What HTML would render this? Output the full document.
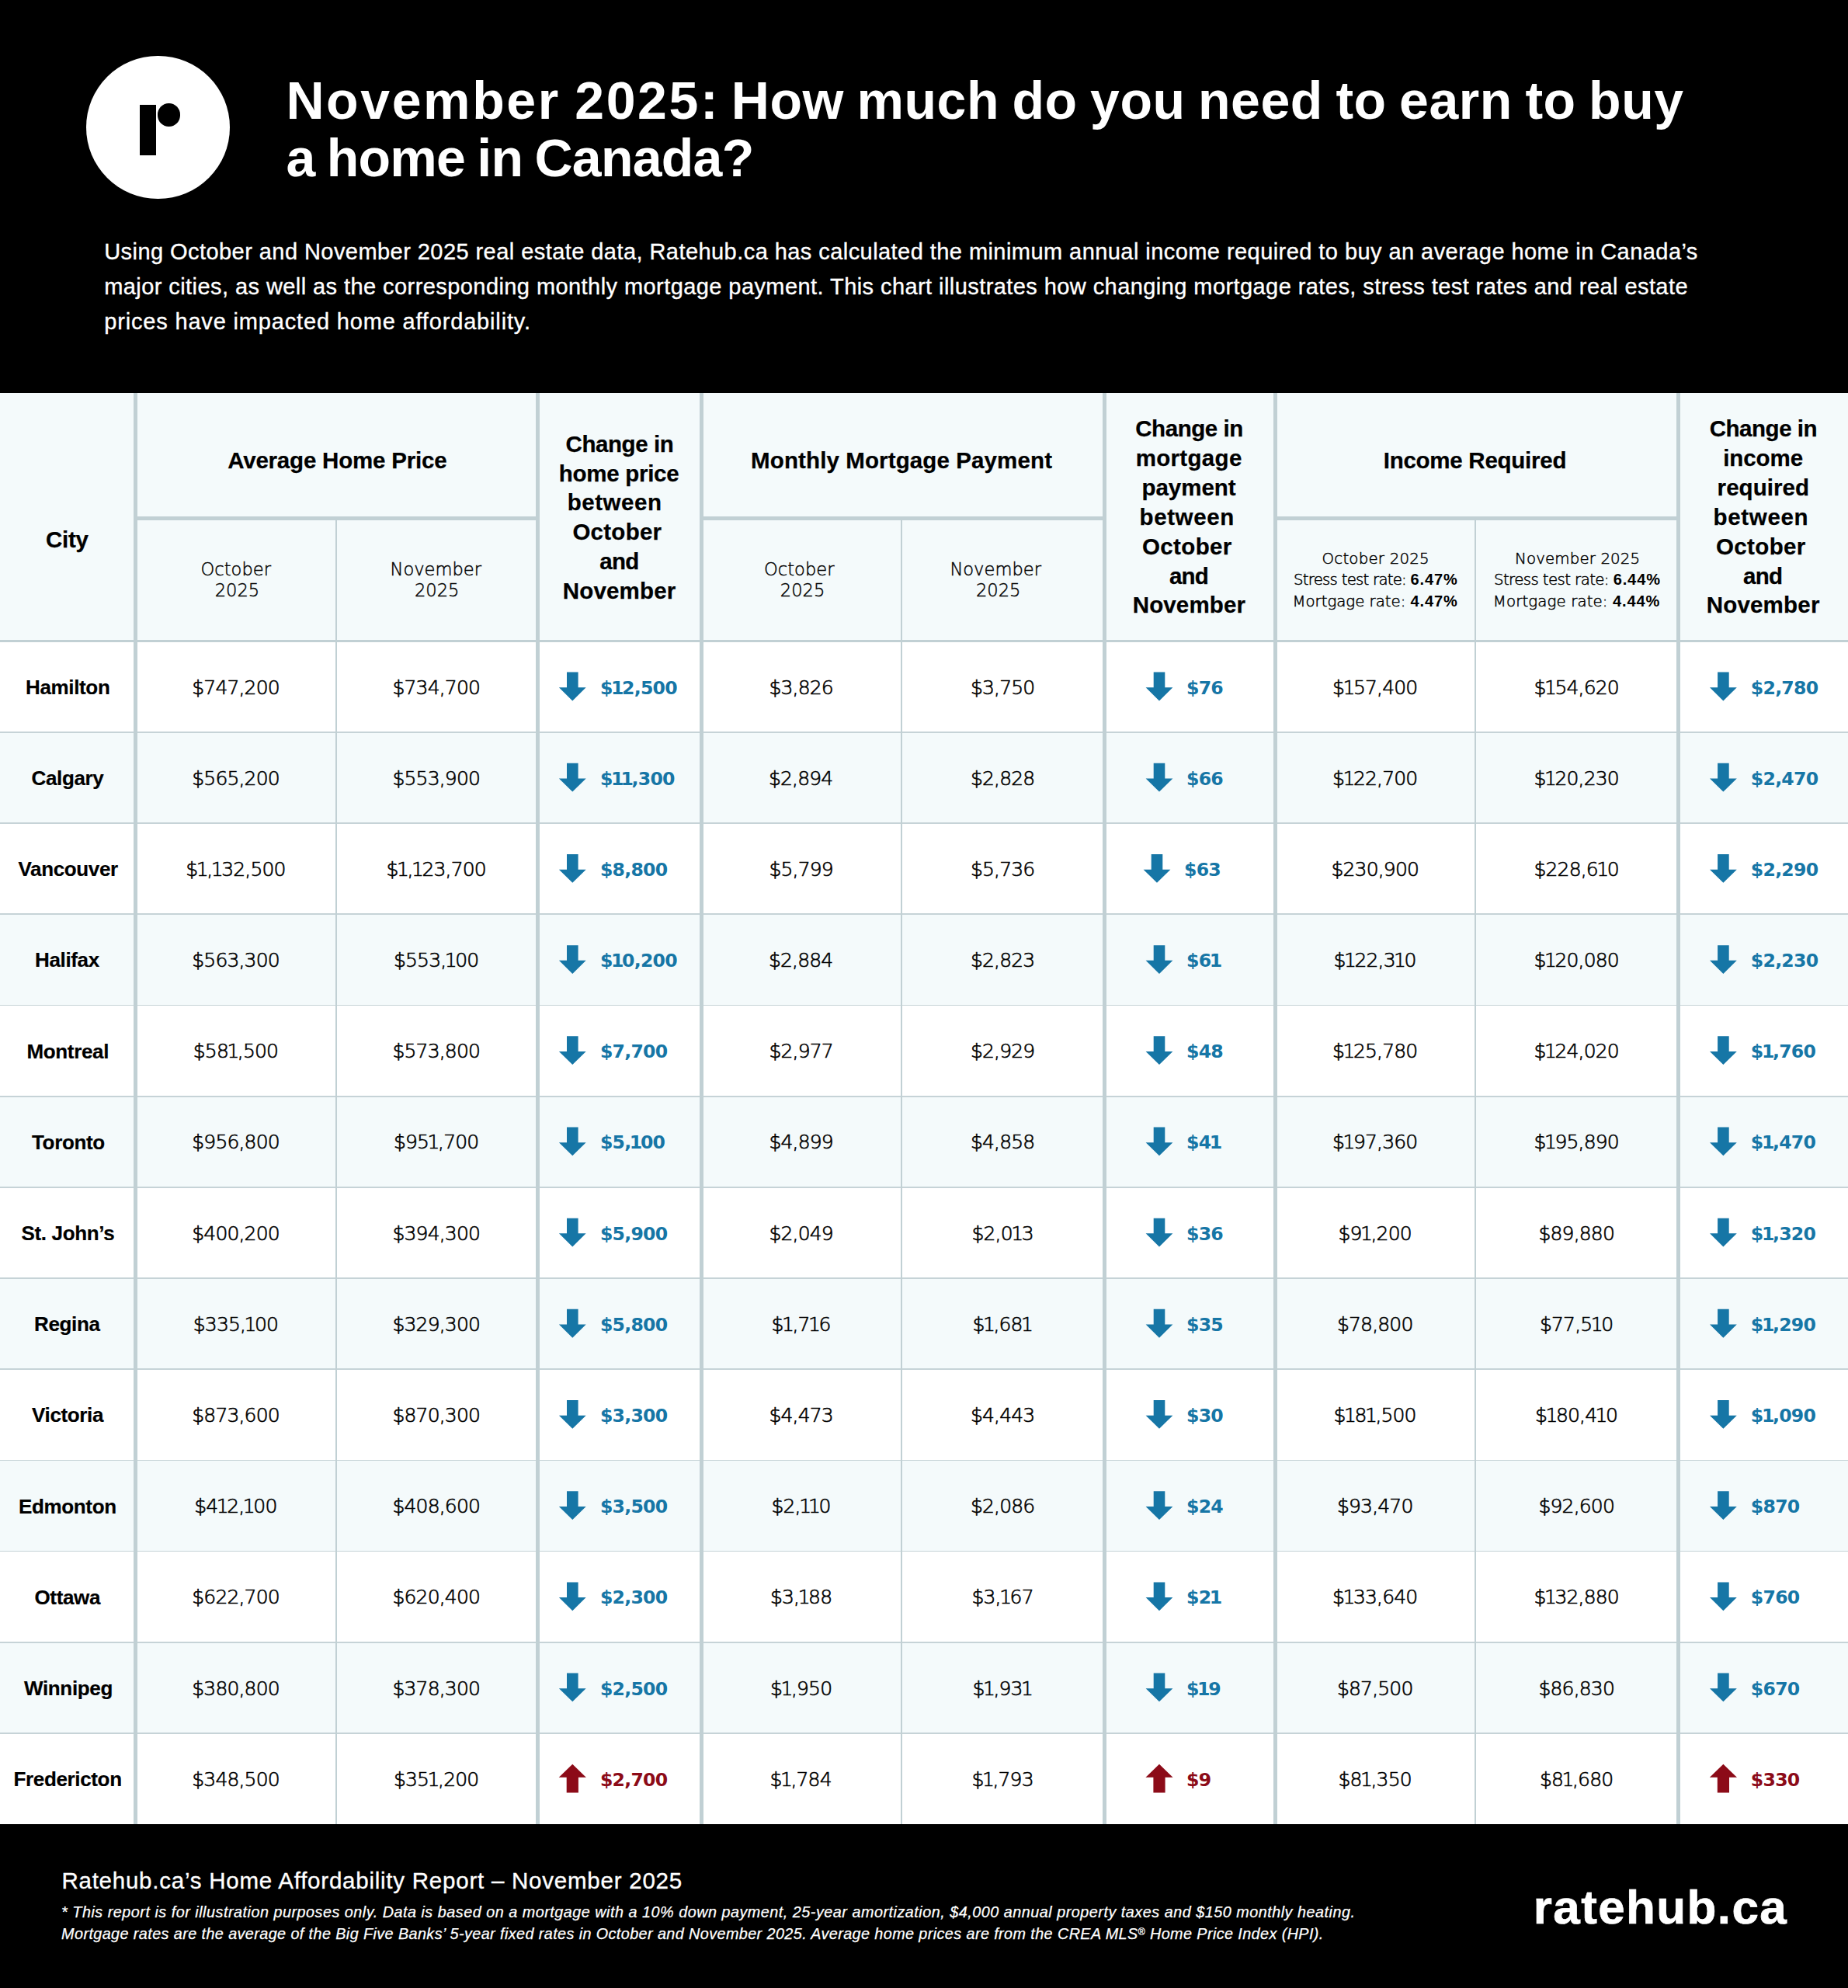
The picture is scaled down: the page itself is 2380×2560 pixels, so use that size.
<!DOCTYPE html>
<html lang="en"><head><meta charset="utf-8"><title>November 2025: How much do you need to earn to buy a home in Canada?</title>
<style>
html,body{margin:0;padding:0;background:#000}
#page{position:relative;width:2380px;height:2560px;overflow:hidden;background:#000}
.b{position:absolute}
#tbl{position:absolute;left:0;top:506px;width:2380px;height:1843px;background:#fff}
.t{position:absolute;white-space:pre;line-height:1.2;margin:0;padding:0}
.h1{font-family:"Liberation Sans",sans-serif;font-size:68px;font-weight:700;color:#fff;word-spacing:-3px;}
.p{font-family:"Liberation Sans",sans-serif;font-size:29px;color:#fff;-webkit-text-stroke:0.35px currentColor;}
.th{font-family:"Liberation Sans",sans-serif;font-size:29.5px;font-weight:700;-webkit-text-stroke:0.25px currentColor;}
.sub{font-family:"DejaVu Sans","Liberation Sans",sans-serif;font-size:22.6px;font-weight:200;-webkit-text-stroke:0.45px currentColor;}
.inc{font-family:"DejaVu Sans","Liberation Sans",sans-serif;font-size:19.75px;font-weight:200;-webkit-text-stroke:0.5px currentColor;}
.city{font-family:"Liberation Sans",sans-serif;font-size:26px;font-weight:700;-webkit-text-stroke:0.2px currentColor;letter-spacing:-0.35px;}
.n{font-family:"DejaVu Sans","Liberation Sans",sans-serif;font-size:25px;font-weight:200;-webkit-text-stroke:0.65px currentColor;letter-spacing:-0.85px;}
.bl{font-family:"DejaVu Sans","Liberation Sans",sans-serif;font-size:23.6px;font-weight:700;color:#1676a6;letter-spacing:-0.75px;}
.rd{font-family:"DejaVu Sans","Liberation Sans",sans-serif;font-size:23.6px;font-weight:700;color:#8c0b18;letter-spacing:-0.75px;}
.ft{font-family:"Liberation Sans",sans-serif;font-size:29.5px;color:#fff;-webkit-text-stroke:0.35px currentColor;}
.fi{font-family:"Liberation Sans",sans-serif;font-size:19.8px;font-style:italic;color:#fff;-webkit-text-stroke:0.25px currentColor;}
.logo{font-family:"Liberation Sans",sans-serif;font-size:62px;font-weight:700;color:#fff;-webkit-text-stroke:0.7px currentColor;}
.fi sup{font-size:62%;vertical-align:baseline;position:relative;top:-0.42em;line-height:0} .n i,.bl i,.rd i{font-style:normal;margin:0 -1.6px} .inc b{font-family:"Liberation Sans",sans-serif;font-weight:700;font-size:20px;letter-spacing:0.9px;-webkit-text-stroke:0}
svg{position:absolute;left:0;top:0}
</style></head><body><div id="page">
<div id="tbl"></div>
<div class="b" style="left:0px;top:506px;width:2380px;height:320px;background:#f4fafb"></div>
<div class="b" style="left:0px;top:942.98px;width:2380px;height:117.18px;background:#f4fafb"></div>
<div class="b" style="left:0px;top:1177.34px;width:2380px;height:117.18px;background:#f4fafb"></div>
<div class="b" style="left:0px;top:1411.7px;width:2380px;height:117.18px;background:#f4fafb"></div>
<div class="b" style="left:0px;top:1646.06px;width:2380px;height:117.18px;background:#f4fafb"></div>
<div class="b" style="left:0px;top:1880.42px;width:2380px;height:117.18px;background:#f4fafb"></div>
<div class="b" style="left:0px;top:2114.78px;width:2380px;height:117.18px;background:#f4fafb"></div>
<div class="b" style="left:0px;top:942.08px;width:2380px;height:1.8px;background:#c6d3d7"></div>
<div class="b" style="left:0px;top:1059.26px;width:2380px;height:1.8px;background:#c6d3d7"></div>
<div class="b" style="left:0px;top:1176.44px;width:2380px;height:1.8px;background:#c6d3d7"></div>
<div class="b" style="left:0px;top:1293.62px;width:2380px;height:1.8px;background:#c6d3d7"></div>
<div class="b" style="left:0px;top:1410.8px;width:2380px;height:1.8px;background:#c6d3d7"></div>
<div class="b" style="left:0px;top:1527.98px;width:2380px;height:1.8px;background:#c6d3d7"></div>
<div class="b" style="left:0px;top:1645.16px;width:2380px;height:1.8px;background:#c6d3d7"></div>
<div class="b" style="left:0px;top:1762.34px;width:2380px;height:1.8px;background:#c6d3d7"></div>
<div class="b" style="left:0px;top:1879.52px;width:2380px;height:1.8px;background:#c6d3d7"></div>
<div class="b" style="left:0px;top:1996.7px;width:2380px;height:1.8px;background:#c6d3d7"></div>
<div class="b" style="left:0px;top:2113.88px;width:2380px;height:1.8px;background:#c6d3d7"></div>
<div class="b" style="left:0px;top:2231.06px;width:2380px;height:1.8px;background:#c6d3d7"></div>
<div class="b" style="left:0px;top:823.5px;width:2380px;height:3.5px;background:#c1d0d4"></div>
<div class="b" style="left:177px;top:664.5px;width:513px;height:5px;background:#c1d0d4"></div>
<div class="b" style="left:905.5px;top:664.5px;width:514.5px;height:5px;background:#c1d0d4"></div>
<div class="b" style="left:1645px;top:664.5px;width:514px;height:5px;background:#c1d0d4"></div>
<div class="b" style="left:172px;top:506px;width:5.4px;height:1843px;background:#c1d0d4"></div>
<div class="b" style="left:690px;top:506px;width:5.4px;height:1843px;background:#c1d0d4"></div>
<div class="b" style="left:900.5px;top:506px;width:5.4px;height:1843px;background:#c1d0d4"></div>
<div class="b" style="left:1420px;top:506px;width:5.4px;height:1843px;background:#c1d0d4"></div>
<div class="b" style="left:1640px;top:506px;width:5.4px;height:1843px;background:#c1d0d4"></div>
<div class="b" style="left:2159px;top:506px;width:5.4px;height:1843px;background:#c1d0d4"></div>
<div class="b" style="left:431.8px;top:669.5px;width:1.8px;height:1679.5px;background:#c1d0d4"></div>
<div class="b" style="left:1160.3px;top:669.5px;width:1.8px;height:1679.5px;background:#c1d0d4"></div>
<div class="b" style="left:1899.3px;top:669.5px;width:1.8px;height:1679.5px;background:#c1d0d4"></div>
<div class="b" style="left:111px;top:71.5px;width:184.5px;height:184.5px;border-radius:50%;background:#fff"></div>
<div class="b" style="left:180.2px;top:135px;width:20.8px;height:65.3px;background:#000"></div>
<div class="b" style="left:202.8px;top:133.4px;width:29.6px;height:29.6px;border-radius:50%;background:#000"></div>
<svg width="2380" height="2560" viewBox="0 0 2380 2560"><polygon points="730,865.59 744.6,865.59 744.6,885.29 754.7,885.29 737.3,902.39 719.9,885.29 730,885.29" fill="#1676a6"/><polygon points="1485.7,865.59 1500.3,865.59 1500.3,885.29 1510.4,885.29 1493,902.39 1475.6,885.29 1485.7,885.29" fill="#1676a6"/><polygon points="2212.1,865.59 2226.7,865.59 2226.7,885.29 2236.8,885.29 2219.4,902.39 2202,885.29 2212.1,885.29" fill="#1676a6"/><polygon points="730,982.77 744.6,982.77 744.6,1002.47 754.7,1002.47 737.3,1019.57 719.9,1002.47 730,1002.47" fill="#1676a6"/><polygon points="1485.7,982.77 1500.3,982.77 1500.3,1002.47 1510.4,1002.47 1493,1019.57 1475.6,1002.47 1485.7,1002.47" fill="#1676a6"/><polygon points="2212.1,982.77 2226.7,982.77 2226.7,1002.47 2236.8,1002.47 2219.4,1019.57 2202,1002.47 2212.1,1002.47" fill="#1676a6"/><polygon points="730,1099.95 744.6,1099.95 744.6,1119.65 754.7,1119.65 737.3,1136.75 719.9,1119.65 730,1119.65" fill="#1676a6"/><polygon points="1482.7,1099.95 1497.3,1099.95 1497.3,1119.65 1507.4,1119.65 1490,1136.75 1472.6,1119.65 1482.7,1119.65" fill="#1676a6"/><polygon points="2212.1,1099.95 2226.7,1099.95 2226.7,1119.65 2236.8,1119.65 2219.4,1136.75 2202,1119.65 2212.1,1119.65" fill="#1676a6"/><polygon points="730,1217.13 744.6,1217.13 744.6,1236.83 754.7,1236.83 737.3,1253.93 719.9,1236.83 730,1236.83" fill="#1676a6"/><polygon points="1485.7,1217.13 1500.3,1217.13 1500.3,1236.83 1510.4,1236.83 1493,1253.93 1475.6,1236.83 1485.7,1236.83" fill="#1676a6"/><polygon points="2212.1,1217.13 2226.7,1217.13 2226.7,1236.83 2236.8,1236.83 2219.4,1253.93 2202,1236.83 2212.1,1236.83" fill="#1676a6"/><polygon points="730,1334.31 744.6,1334.31 744.6,1354.01 754.7,1354.01 737.3,1371.11 719.9,1354.01 730,1354.01" fill="#1676a6"/><polygon points="1485.7,1334.31 1500.3,1334.31 1500.3,1354.01 1510.4,1354.01 1493,1371.11 1475.6,1354.01 1485.7,1354.01" fill="#1676a6"/><polygon points="2212.1,1334.31 2226.7,1334.31 2226.7,1354.01 2236.8,1354.01 2219.4,1371.11 2202,1354.01 2212.1,1354.01" fill="#1676a6"/><polygon points="730,1451.49 744.6,1451.49 744.6,1471.19 754.7,1471.19 737.3,1488.29 719.9,1471.19 730,1471.19" fill="#1676a6"/><polygon points="1485.7,1451.49 1500.3,1451.49 1500.3,1471.19 1510.4,1471.19 1493,1488.29 1475.6,1471.19 1485.7,1471.19" fill="#1676a6"/><polygon points="2212.1,1451.49 2226.7,1451.49 2226.7,1471.19 2236.8,1471.19 2219.4,1488.29 2202,1471.19 2212.1,1471.19" fill="#1676a6"/><polygon points="730,1568.67 744.6,1568.67 744.6,1588.37 754.7,1588.37 737.3,1605.47 719.9,1588.37 730,1588.37" fill="#1676a6"/><polygon points="1485.7,1568.67 1500.3,1568.67 1500.3,1588.37 1510.4,1588.37 1493,1605.47 1475.6,1588.37 1485.7,1588.37" fill="#1676a6"/><polygon points="2212.1,1568.67 2226.7,1568.67 2226.7,1588.37 2236.8,1588.37 2219.4,1605.47 2202,1588.37 2212.1,1588.37" fill="#1676a6"/><polygon points="730,1685.85 744.6,1685.85 744.6,1705.55 754.7,1705.55 737.3,1722.65 719.9,1705.55 730,1705.55" fill="#1676a6"/><polygon points="1485.7,1685.85 1500.3,1685.85 1500.3,1705.55 1510.4,1705.55 1493,1722.65 1475.6,1705.55 1485.7,1705.55" fill="#1676a6"/><polygon points="2212.1,1685.85 2226.7,1685.85 2226.7,1705.55 2236.8,1705.55 2219.4,1722.65 2202,1705.55 2212.1,1705.55" fill="#1676a6"/><polygon points="730,1803.03 744.6,1803.03 744.6,1822.73 754.7,1822.73 737.3,1839.83 719.9,1822.73 730,1822.73" fill="#1676a6"/><polygon points="1485.7,1803.03 1500.3,1803.03 1500.3,1822.73 1510.4,1822.73 1493,1839.83 1475.6,1822.73 1485.7,1822.73" fill="#1676a6"/><polygon points="2212.1,1803.03 2226.7,1803.03 2226.7,1822.73 2236.8,1822.73 2219.4,1839.83 2202,1822.73 2212.1,1822.73" fill="#1676a6"/><polygon points="730,1920.21 744.6,1920.21 744.6,1939.91 754.7,1939.91 737.3,1957.01 719.9,1939.91 730,1939.91" fill="#1676a6"/><polygon points="1485.7,1920.21 1500.3,1920.21 1500.3,1939.91 1510.4,1939.91 1493,1957.01 1475.6,1939.91 1485.7,1939.91" fill="#1676a6"/><polygon points="2212.1,1920.21 2226.7,1920.21 2226.7,1939.91 2236.8,1939.91 2219.4,1957.01 2202,1939.91 2212.1,1939.91" fill="#1676a6"/><polygon points="730,2037.39 744.6,2037.39 744.6,2057.09 754.7,2057.09 737.3,2074.19 719.9,2057.09 730,2057.09" fill="#1676a6"/><polygon points="1485.7,2037.39 1500.3,2037.39 1500.3,2057.09 1510.4,2057.09 1493,2074.19 1475.6,2057.09 1485.7,2057.09" fill="#1676a6"/><polygon points="2212.1,2037.39 2226.7,2037.39 2226.7,2057.09 2236.8,2057.09 2219.4,2074.19 2202,2057.09 2212.1,2057.09" fill="#1676a6"/><polygon points="730,2154.57 744.6,2154.57 744.6,2174.27 754.7,2174.27 737.3,2191.37 719.9,2174.27 730,2174.27" fill="#1676a6"/><polygon points="1485.7,2154.57 1500.3,2154.57 1500.3,2174.27 1510.4,2174.27 1493,2191.37 1475.6,2174.27 1485.7,2174.27" fill="#1676a6"/><polygon points="2212.1,2154.57 2226.7,2154.57 2226.7,2174.27 2236.8,2174.27 2219.4,2191.37 2202,2174.27 2212.1,2174.27" fill="#1676a6"/><polygon points="729.7,2308.55 744.9,2308.55 744.9,2288.85 754.9,2288.85 737.3,2271.75 719.7,2288.85 729.7,2288.85" fill="#8c0b18"/><polygon points="1485.4,2308.55 1500.6,2308.55 1500.6,2288.85 1510.6,2288.85 1493,2271.75 1475.4,2288.85 1485.4,2288.85" fill="#8c0b18"/><polygon points="2211.8,2308.55 2227,2308.55 2227,2288.85 2237,2288.85 2219.4,2271.75 2201.8,2288.85 2211.8,2288.85" fill="#8c0b18"/></svg>
<div class="t h1" style="left:368.4px;top:88.8px;letter-spacing:2.600px">November 2025:</div>
<div class="t h1" style="left:941.8px;top:88.8px;letter-spacing:0.550px">How much do you need to earn to buy</div>
<div class="t h1" style="left:368.4px;top:162.8px;letter-spacing:-0.725px">a home in Canada?</div>
<div class="t p" style="left:134.2px;top:306.8px;letter-spacing:0.440px">Using October and November 2025 real estate data, Ratehub.ca has calculated the minimum annual income required to buy an average home in Canada’s</div>
<div class="t p" style="left:134.2px;top:352px;letter-spacing:0.427px">major cities, as well as the corresponding monthly mortgage payment. This chart illustrates how changing mortgage rates, stress test rates and real estate</div>
<div class="t p" style="left:134.2px;top:397.1px;letter-spacing:0.833px">prices have impacted home affordability.</div>
<div class="t th" style="left:59px;top:676.7px;letter-spacing:-0.233px">City</div>
<div class="t th" style="left:293.2px;top:574.7px;letter-spacing:-0.206px">Average Home Price</div>
<div class="t th" style="left:967.1px;top:574.7px;letter-spacing:0.117px">Monthly Mortgage Payment</div>
<div class="t th" style="left:1781.7px;top:574.7px;letter-spacing:-0.257px">Income Required</div>
<div class="t th" style="left:728.5px;top:553.7px;letter-spacing:-0.425px">Change in</div>
<div class="t th" style="left:719.8px;top:591.55px;letter-spacing:-0.289px">home price</div>
<div class="t th" style="left:730.7px;top:629.4px;letter-spacing:0.550px">between</div>
<div class="t th" style="left:737.4px;top:667.25px;letter-spacing:0.267px">October</div>
<div class="t th" style="left:772.2px;top:705.1px;letter-spacing:-0.700px">and</div>
<div class="t th" style="left:724.7px;top:742.95px;letter-spacing:0.186px">November</div>
<div class="t th" style="left:1462.2px;top:534.3px;letter-spacing:-0.425px">Change in</div>
<div class="t th" style="left:1462.7px;top:572.15px;letter-spacing:0.314px">mortgage</div>
<div class="t th" style="left:1470.4px;top:610px;letter-spacing:-0.017px">payment</div>
<div class="t th" style="left:1467.5px;top:647.85px;letter-spacing:0.617px">between</div>
<div class="t th" style="left:1471px;top:685.7px;letter-spacing:0.367px">October</div>
<div class="t th" style="left:1506px;top:723.55px;letter-spacing:-0.850px">and</div>
<div class="t th" style="left:1458.7px;top:761.4px;letter-spacing:0.143px">November</div>
<div class="t th" style="left:2201.7px;top:534.3px;letter-spacing:-0.462px">Change in</div>
<div class="t th" style="left:2219.2px;top:572.15px;letter-spacing:-0.080px">income</div>
<div class="t th" style="left:2211.6px;top:610px;letter-spacing:0.071px">required</div>
<div class="t th" style="left:2206.5px;top:647.85px;letter-spacing:0.683px">between</div>
<div class="t th" style="left:2210px;top:685.7px;letter-spacing:0.367px">October</div>
<div class="t th" style="left:2245px;top:723.55px;letter-spacing:-0.750px">and</div>
<div class="t th" style="left:2197.7px;top:761.4px;letter-spacing:0.200px">November</div>
<div class="t sub" style="left:258.5px;top:719.7px">October</div>
<div class="t sub" style="left:276.7px;top:746.7px">2025</div>
<div class="t sub" style="left:502.5px;top:719.7px">November</div>
<div class="t sub" style="left:533.9px;top:746.7px">2025</div>
<div class="t sub" style="left:984px;top:719.7px">October</div>
<div class="t sub" style="left:1004.8px;top:746.7px">2025</div>
<div class="t sub" style="left:1223.4px;top:719.7px">November</div>
<div class="t sub" style="left:1257px;top:746.7px">2025</div>
<div class="t inc" style="left:1702.5px;top:707.9px;letter-spacing:0.236px">October 2025</div>
<div class="t inc" style="left:1666px;top:734.2px;letter-spacing:-0.761px">Stress test rate: <b>6.47%</b></div>
<div class="t inc" style="left:1664.5px;top:761.5px;letter-spacing:-0.013px">Mortgage rate: <b>4.47%</b></div>
<div class="t inc" style="left:1951.1px;top:707.9px;letter-spacing:0.142px">November 2025</div>
<div class="t inc" style="left:1924px;top:734.2px;letter-spacing:-0.589px">Stress test rate: <b>6.44%</b></div>
<div class="t inc" style="left:1922.8px;top:761.5px;letter-spacing:0.133px">Mortgage rate: <b>4.44%</b></div>
<div class="t city" style="left:33px;top:869.89px">Hamilton</div>
<div class="t n" style="left:247.3px;top:870.59px">$747,200</div>
<div class="t n" style="left:505.5px;top:870.59px">$734,700</div>
<div class="t n" style="left:990.5px;top:870.59px">$3,826</div>
<div class="t n" style="left:1250px;top:870.59px">$3,750</div>
<div class="t n" style="left:1716px;top:870.59px">$<i>1</i>57,400</div>
<div class="t n" style="left:1975.5px;top:870.59px">$<i>1</i>54,620</div>
<div class="t bl" style="left:772.9px;top:871.59px">$<i>1</i>2,500</div>
<div class="t bl" style="left:1528px;top:871.59px">$76</div>
<div class="t bl" style="left:2254.8px;top:871.59px">$2,780</div>
<div class="t city" style="left:40.5px;top:987.07px">Calgary</div>
<div class="t n" style="left:247.3px;top:987.77px">$565,200</div>
<div class="t n" style="left:505.5px;top:987.77px">$553,900</div>
<div class="t n" style="left:990px;top:987.77px">$2,894</div>
<div class="t n" style="left:1250px;top:987.77px">$2,828</div>
<div class="t n" style="left:1716px;top:987.77px">$<i>1</i>22,700</div>
<div class="t n" style="left:1975.5px;top:987.77px">$<i>1</i>20,230</div>
<div class="t bl" style="left:772.9px;top:988.77px">$<i>1</i><i>1</i>,300</div>
<div class="t bl" style="left:1528px;top:988.77px">$66</div>
<div class="t bl" style="left:2254.8px;top:988.77px">$2,470</div>
<div class="t city" style="left:23.5px;top:1104.25px">Vancouver</div>
<div class="t n" style="left:239.3px;top:1104.95px">$<i>1</i>,<i>1</i>32,500</div>
<div class="t n" style="left:497.5px;top:1104.95px">$<i>1</i>,<i>1</i>23,700</div>
<div class="t n" style="left:990.5px;top:1104.95px">$5,799</div>
<div class="t n" style="left:1250px;top:1104.95px">$5,736</div>
<div class="t n" style="left:1714.5px;top:1104.95px">$230,900</div>
<div class="t n" style="left:1975.5px;top:1104.95px">$228,6<i>1</i>0</div>
<div class="t bl" style="left:772.9px;top:1105.95px">$8,800</div>
<div class="t bl" style="left:1525px;top:1105.95px">$63</div>
<div class="t bl" style="left:2254.8px;top:1105.95px">$2,290</div>
<div class="t city" style="left:45px;top:1221.43px">Halifax</div>
<div class="t n" style="left:247.3px;top:1222.13px">$563,300</div>
<div class="t n" style="left:507px;top:1222.13px">$553,<i>1</i>00</div>
<div class="t n" style="left:990px;top:1222.13px">$2,884</div>
<div class="t n" style="left:1250px;top:1222.13px">$2,823</div>
<div class="t n" style="left:1717.5px;top:1222.13px">$<i>1</i>22,3<i>1</i>0</div>
<div class="t n" style="left:1975.5px;top:1222.13px">$<i>1</i>20,080</div>
<div class="t bl" style="left:772.9px;top:1223.13px">$<i>1</i>0,200</div>
<div class="t bl" style="left:1528px;top:1223.13px">$6<i>1</i></div>
<div class="t bl" style="left:2254.8px;top:1223.13px">$2,230</div>
<div class="t city" style="left:34.5px;top:1338.61px">Montreal</div>
<div class="t n" style="left:248.8px;top:1339.31px">$58<i>1</i>,500</div>
<div class="t n" style="left:505.5px;top:1339.31px">$573,800</div>
<div class="t n" style="left:990.5px;top:1339.31px">$2,977</div>
<div class="t n" style="left:1250px;top:1339.31px">$2,929</div>
<div class="t n" style="left:1716px;top:1339.31px">$<i>1</i>25,780</div>
<div class="t n" style="left:1975.5px;top:1339.31px">$<i>1</i>24,020</div>
<div class="t bl" style="left:772.9px;top:1340.31px">$7,700</div>
<div class="t bl" style="left:1528px;top:1340.31px">$48</div>
<div class="t bl" style="left:2254.8px;top:1340.31px">$<i>1</i>,760</div>
<div class="t city" style="left:41px;top:1455.79px">Toronto</div>
<div class="t n" style="left:247.3px;top:1456.49px">$956,800</div>
<div class="t n" style="left:507px;top:1456.49px">$95<i>1</i>,700</div>
<div class="t n" style="left:990.5px;top:1456.49px">$4,899</div>
<div class="t n" style="left:1250px;top:1456.49px">$4,858</div>
<div class="t n" style="left:1716px;top:1456.49px">$<i>1</i>97,360</div>
<div class="t n" style="left:1975.5px;top:1456.49px">$<i>1</i>95,890</div>
<div class="t bl" style="left:772.9px;top:1457.49px">$5,<i>1</i>00</div>
<div class="t bl" style="left:1528px;top:1457.49px">$4<i>1</i></div>
<div class="t bl" style="left:2254.8px;top:1457.49px">$<i>1</i>,470</div>
<div class="t city" style="left:27.5px;top:1572.97px">St. John’s</div>
<div class="t n" style="left:247.3px;top:1573.67px">$400,200</div>
<div class="t n" style="left:505.5px;top:1573.67px">$394,300</div>
<div class="t n" style="left:990.5px;top:1573.67px">$2,049</div>
<div class="t n" style="left:1251.5px;top:1573.67px">$2,0<i>1</i>3</div>
<div class="t n" style="left:1723.5px;top:1573.67px">$9<i>1</i>,200</div>
<div class="t n" style="left:1981.5px;top:1573.67px">$89,880</div>
<div class="t bl" style="left:772.9px;top:1574.67px">$5,900</div>
<div class="t bl" style="left:1528px;top:1574.67px">$36</div>
<div class="t bl" style="left:2254.8px;top:1574.67px">$<i>1</i>,320</div>
<div class="t city" style="left:44px;top:1690.15px">Regina</div>
<div class="t n" style="left:248.8px;top:1690.85px">$335,<i>1</i>00</div>
<div class="t n" style="left:505.5px;top:1690.85px">$329,300</div>
<div class="t n" style="left:993.5px;top:1690.85px">$<i>1</i>,7<i>1</i>6</div>
<div class="t n" style="left:1252.5px;top:1690.85px">$<i>1</i>,68<i>1</i></div>
<div class="t n" style="left:1722px;top:1690.85px">$78,800</div>
<div class="t n" style="left:1983px;top:1690.85px">$77,5<i>1</i>0</div>
<div class="t bl" style="left:772.9px;top:1691.85px">$5,800</div>
<div class="t bl" style="left:1528px;top:1691.85px">$35</div>
<div class="t bl" style="left:2254.8px;top:1691.85px">$<i>1</i>,290</div>
<div class="t city" style="left:41px;top:1807.33px">Victoria</div>
<div class="t n" style="left:247.3px;top:1808.03px">$873,600</div>
<div class="t n" style="left:505.5px;top:1808.03px">$870,300</div>
<div class="t n" style="left:990.5px;top:1808.03px">$4,473</div>
<div class="t n" style="left:1250px;top:1808.03px">$4,443</div>
<div class="t n" style="left:1717.5px;top:1808.03px">$<i>1</i>8<i>1</i>,500</div>
<div class="t n" style="left:1977px;top:1808.03px">$<i>1</i>80,4<i>1</i>0</div>
<div class="t bl" style="left:772.9px;top:1809.03px">$3,300</div>
<div class="t bl" style="left:1528px;top:1809.03px">$30</div>
<div class="t bl" style="left:2254.8px;top:1809.03px">$<i>1</i>,090</div>
<div class="t city" style="left:24px;top:1924.51px">Edmonton</div>
<div class="t n" style="left:250.3px;top:1925.21px">$4<i>1</i>2,<i>1</i>00</div>
<div class="t n" style="left:505.5px;top:1925.21px">$408,600</div>
<div class="t n" style="left:993.5px;top:1925.21px">$2,<i>1</i><i>1</i>0</div>
<div class="t n" style="left:1250px;top:1925.21px">$2,086</div>
<div class="t n" style="left:1722px;top:1925.21px">$93,470</div>
<div class="t n" style="left:1981.5px;top:1925.21px">$92,600</div>
<div class="t bl" style="left:772.9px;top:1926.21px">$3,500</div>
<div class="t bl" style="left:1528px;top:1926.21px">$24</div>
<div class="t bl" style="left:2254.8px;top:1926.21px">$870</div>
<div class="t city" style="left:44.5px;top:2041.69px">Ottawa</div>
<div class="t n" style="left:247.3px;top:2042.39px">$622,700</div>
<div class="t n" style="left:505.5px;top:2042.39px">$620,400</div>
<div class="t n" style="left:992px;top:2042.39px">$3,<i>1</i>88</div>
<div class="t n" style="left:1251.5px;top:2042.39px">$3,<i>1</i>67</div>
<div class="t n" style="left:1716px;top:2042.39px">$<i>1</i>33,640</div>
<div class="t n" style="left:1975.5px;top:2042.39px">$<i>1</i>32,880</div>
<div class="t bl" style="left:772.9px;top:2043.39px">$2,300</div>
<div class="t bl" style="left:1528px;top:2043.39px">$2<i>1</i></div>
<div class="t bl" style="left:2254.8px;top:2043.39px">$760</div>
<div class="t city" style="left:31px;top:2158.87px">Winnipeg</div>
<div class="t n" style="left:247.3px;top:2159.57px">$380,800</div>
<div class="t n" style="left:505.5px;top:2159.57px">$378,300</div>
<div class="t n" style="left:992px;top:2159.57px">$<i>1</i>,950</div>
<div class="t n" style="left:1252.5px;top:2159.57px">$<i>1</i>,93<i>1</i></div>
<div class="t n" style="left:1722px;top:2159.57px">$87,500</div>
<div class="t n" style="left:1981.5px;top:2159.57px">$86,830</div>
<div class="t bl" style="left:772.9px;top:2160.57px">$2,500</div>
<div class="t bl" style="left:1528px;top:2160.57px">$<i>1</i>9</div>
<div class="t bl" style="left:2254.8px;top:2160.57px">$670</div>
<div class="t city" style="left:17.5px;top:2276.05px">Fredericton</div>
<div class="t n" style="left:247.3px;top:2276.75px">$348,500</div>
<div class="t n" style="left:507px;top:2276.75px">$35<i>1</i>,200</div>
<div class="t n" style="left:991.5px;top:2276.75px">$<i>1</i>,784</div>
<div class="t n" style="left:1251.5px;top:2276.75px">$<i>1</i>,793</div>
<div class="t n" style="left:1723.5px;top:2276.75px">$8<i>1</i>,350</div>
<div class="t n" style="left:1983px;top:2276.75px">$8<i>1</i>,680</div>
<div class="t rd" style="left:772.9px;top:2277.75px">$2,700</div>
<div class="t rd" style="left:1528px;top:2277.75px">$9</div>
<div class="t rd" style="left:2254.8px;top:2277.75px">$330</div>
<div class="t ft" style="left:79.4px;top:2404.2px;letter-spacing:0.766px">Ratehub.ca’s Home Affordability Report – November 2025</div>
<div class="t fi" style="left:79.1px;top:2450.6px;letter-spacing:0.505px">* This report is for illustration purposes only. Data is based on a mortgage with a 10% down payment, 25-year amortization, $4,000 annual property taxes and $150 monthly heating.</div>
<div class="t fi" style="left:79.1px;top:2479px;letter-spacing:0.410px">Mortgage rates are the average of the Big Five Banks’ 5-year fixed rates in October and November 2025. Average home prices are from the CREA MLS<sup>®</sup> Home Price Index (HPI).</div>
<div class="t logo" style="left:1974.8px;top:2418.5px;letter-spacing:1.378px">ratehub.ca</div>
</div></body></html>
